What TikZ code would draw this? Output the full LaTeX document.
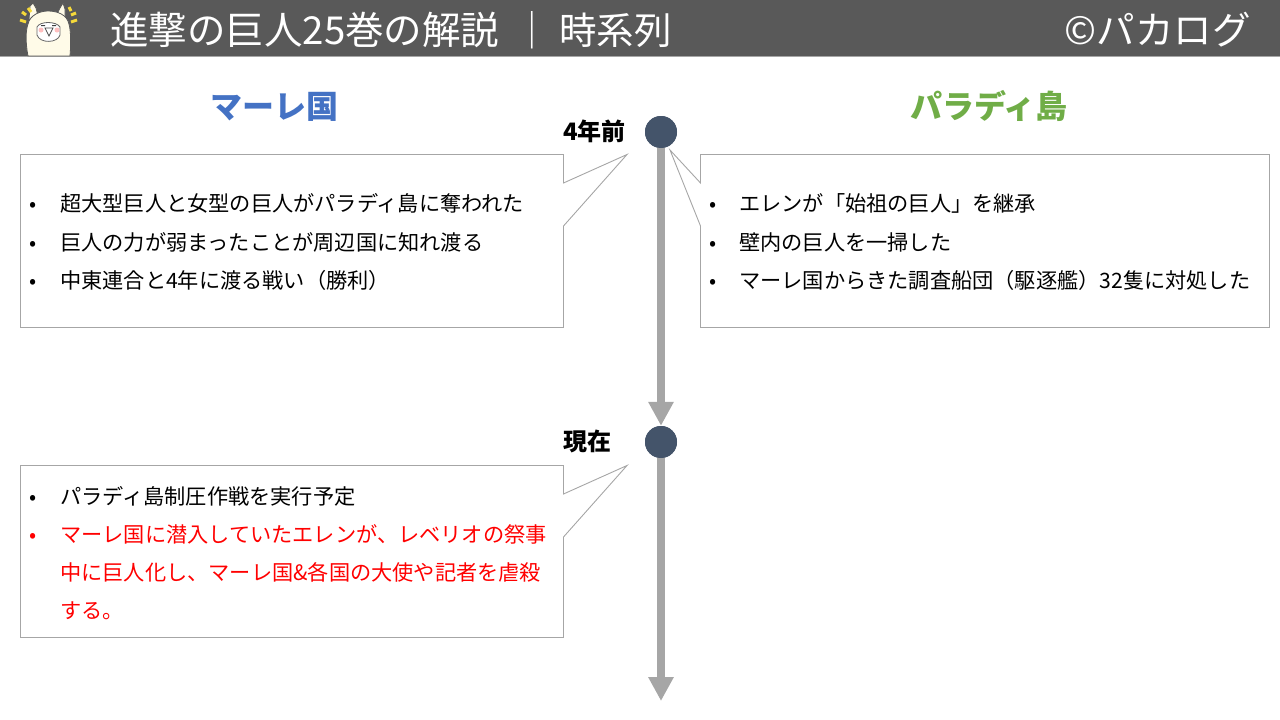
\documentclass[tikz,border=0pt]{standalone}
\usepackage{fontspec}
\setmainfont{Noto Sans CJK JP}
\usetikzlibrary{arrows.meta}
\definecolor{headgray}{HTML}{595959}
\definecolor{linegray}{HTML}{A6A6A6}
\definecolor{dotblue}{HTML}{44546A}
\definecolor{marleblue}{HTML}{4472C4}
\definecolor{paradisgreen}{HTML}{70AD47}
\definecolor{wool}{HTML}{FFFBE8}
\definecolor{tickyellow}{HTML}{F5D93A}
\tikzset{
  callout/.style={draw=linegray,fill=white,line width=0.9pt,line join=miter},
  timeline/.style={draw=linegray,line width=8pt,-{Triangle[length=24pt,width=24pt]}},
  dot/.style={circle,fill=dotblue,draw=none,inner sep=0pt,minimum size=32pt},
  body/.style={text=black,anchor=base west,inner sep=0pt,font=\fontsize{21.2pt}{21pt}\selectfont},
  bullet/.style={text=black,anchor=base,inner sep=0pt,font=\fontsize{21pt}{21pt}\selectfont},
  redtext/.style={body,text=red},
  redbullet/.style={bullet,text=red},
  title/.style={anchor=base,inner sep=0pt,font=\fontsize{32pt}{32pt}\selectfont\bfseries},
  when/.style={text=black,anchor=base west,inner sep=0pt,font=\fontsize{24pt}{24pt}\selectfont\bfseries},
  header/.style={text=white,anchor=base west,inner sep=0pt,font=\fontsize{37.5pt}{38pt}\selectfont},
  woolpuff/.style={fill=wool,draw=black!65,line width=0.8pt},
  tick/.style={draw=tickyellow,line width=3pt}
}
\begin{document}
\begin{tikzpicture}[x=1pt,y=-1pt]
\useasboundingbox (0,0) rectangle (1280,720);

% header bar:
\fill[headgray] (0,0) rectangle (1280,56);
\draw[linegray,line width=1pt] (0,56.5) -- (1280,56.5);
\path (110,44) node[header,font=\fontsize{38.5pt}{38pt}\selectfont] (headtitle) {進撃の巨人25巻の解説};
\path (513,44) node[header] (headbar) {｜};
\path (559,44) node[header] (headsub) {時系列};
\path (1251,44) node[header,anchor=base east,font=\fontsize{38.5pt}{39pt}\selectfont] (headcopy) {©パカログ};

% alpaca:
\draw[woolpuff] (29,20) -- (30,6) -- (33,3) -- (36,8) -- (38,16) -- cycle;
\draw[woolpuff] (56,16) -- (60,8) -- (63,3) -- (65,9) -- (65,20) -- cycle;
\draw[woolpuff] (28,56) .. controls (25,40) and (26,30) .. (28,24)
  .. controls (30,15) and (40,11) .. (48,11)
  .. controls (58,11) and (67,15) .. (69,24)
  .. controls (71,32) and (71,44) .. (70,56) -- cycle;
\draw[black!60,line width=0.8pt,fill=white] (37,27) .. controls (40,21) and (56,21) .. (60,27)
  -- (60,35) .. controls (58,43) and (40,44) .. (37,35) -- cycle;
\fill[black!75] (41,25) rectangle (45,26) (52,25) rectangle (56,26);
\fill[pink] (41,30) circle (2.5pt) (57,30) circle (2.5pt);
\draw[black!70,line width=0.8pt,fill=white] (45,28) -- (49,36) -- (53,28) -- cycle;
\draw[tick] (20,20) -- (26,22);
\draw[tick] (22,12) -- (26,15);
\draw[tick] (28,8) -- (31,12);
\draw[tick] (71,22) -- (77,20);
\draw[tick] (71,15) -- (76,13);
\draw[tick] (69,7) -- (71,11);

% column titles:
\path (274,118) node[title,text=marleblue] (marle) {マーレ国};
\path (989,118) node[title,text=paradisgreen] (paradis) {パラディ島};

% timeline:
\path (661,132) node[dot] (past) {};
\path (661,442) node[dot] (now) {};
\coordinate (tlend) at (661,701);
\draw[timeline] (past.center) -- (now.north);
\draw[timeline] (now.center) -- (tlend);
\path (661,132) node[dot] {};
\path (661,442) node[dot] {};
\path (563,140) node[when] (pastlabel) {4年前};
\path (563,450) node[when] (nowlabel) {現在};

% callouts:
\draw[callout] (20.5,154.5) -- (563.5,154.5) -- (563.5,183) -- (627,154.5) -- (563.5,226) -- (563.5,327.5) -- (20.5,327.5) -- cycle;
\draw[callout] (700.5,154.5) -- (1269.5,154.5) -- (1269.5,327.5) -- (700.5,327.5) -- (700.5,226) -- (670,150) -- (700.5,183) -- cycle;
\draw[callout] (20.5,465.5) -- (563.5,465.5) -- (563.5,494) -- (627,465.5) -- (563.5,537) -- (563.5,637.5) -- (20.5,637.5) -- cycle;

% first left box:
\path (33,211) node[bullet] (la) {•};
\path (33,250) node[bullet] (lb) {•};
\path (33,288) node[bullet] (lc) {•};
\path (60,211) node[body] (latext) {超大型巨人と女型の巨人がパラディ島に奪われた};
\path (60,250) node[body] (lbtext) {巨人の力が弱まったことが周辺国に知れ渡る};
\path (60,288) node[body] (lctext) {中東連合と4年に渡る戦い（勝利）};

% right box:
\path (713,211) node[bullet] (ra) {•};
\path (713,250) node[bullet] (rb) {•};
\path (713,288) node[bullet] (rc) {•};
\path (739,211) node[body] (ratext) {エレンが「始祖の巨人」を継承};
\path (739,250) node[body] (rbtext) {壁内の巨人を一掃した};
\path (739,288) node[body] (rctext) {マーレ国からきた調査船団（駆逐艦）32隻に対処した};

% second left box:
\path (33,504) node[bullet] (na) {•};
\path (33,542) node[redbullet] (nb) {•};
\path (60,504) node[body] (natext) {パラディ島制圧作戦を実行予定};
\path (60,542) node[redtext] (nbtext) {マーレ国に潜入していたエレンが、レベリオの祭事};
\path (60,580) node[redtext] (nctext) {中に巨人化し、マーレ国\&各国の大使や記者を虐殺};
\path (60,618) node[redtext] (ndtext) {する。};

\end{tikzpicture}
\end{document}
